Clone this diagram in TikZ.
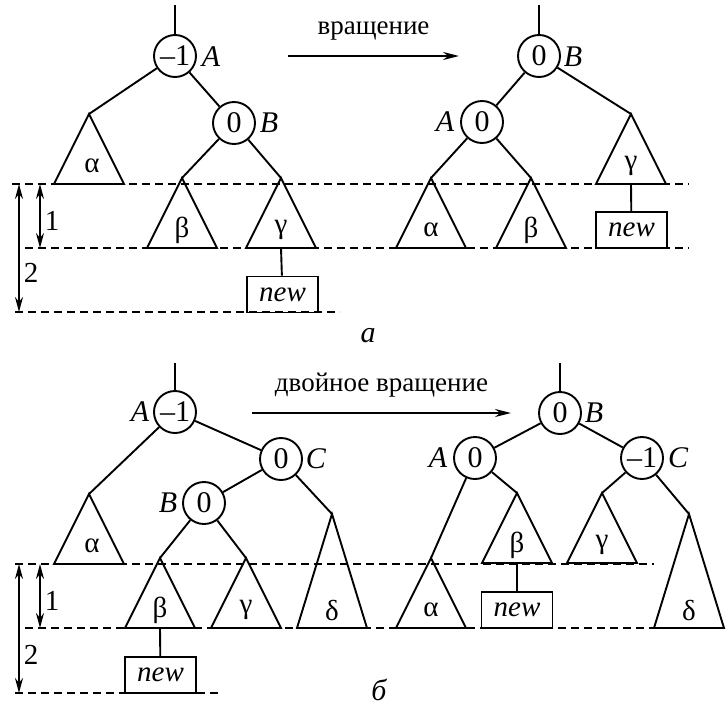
\documentclass[tikz,border=0pt]{standalone}
\usepackage{fontspec}
\setmainfont{Liberation Serif}
\usetikzlibrary{arrows.meta}
\begin{document}
\begin{tikzpicture}[x=0.5pt,y=-0.5pt,font=\fontsize{13.5}{15}\selectfont,line width=0.95pt]
     \tikzstyle{balnode}=[draw,circle,minimum size=21pt,inner sep=0pt,font=\fontsize{15}{15}\selectfont]
     \tikzstyle{namenode}=[font=\fontsize{15}{15}\selectfont\itshape,inner sep=0pt]
     \tikzstyle{newnode}=[draw,minimum width=35.5pt,minimum height=18pt,inner sep=0pt,font=\fontsize{14.5}{15}\selectfont\itshape]
     \tikzstyle{subnode}=[inner sep=0pt,font=\fontsize{14.5}{15}\selectfont]
     \tikzstyle{levelline}=[dash pattern=on 4pt off 2.5pt,line width=0.75pt]
     \tikzstyle{dimline}=[{Stealth[length=7.5pt,width=4pt]}-{Stealth[length=7.5pt,width=4pt]}]
     \tikzstyle{turnline}=[-{Stealth[length=8pt,width=4pt]}]
     \useasboundingbox (0,0) rectangle (728,707);
     % a: levels
     \draw[levelline] (12,184) -- (689,184);
     \draw[levelline] (25,248) -- (689,248);
     \draw[levelline] (15,312) -- (340,312);
     \draw[dimline] (19,184) -- (19,312);
     \draw[dimline] (40,184) -- (40,248);
     \node[subnode] (one1) at (52,221) {1};
     \node[subnode] (two1) at (31,273) {2};
     % a: before
     \coordinate (s1) at (175,5);
     \node[balnode] (a1) at (175,56) {--1};
     \node[namenode] (a1n) at (211,57) {A};
     \node[balnode] (b1) at (234,123) {0};
     \node[namenode] (b1n) at (269,123) {B};
     \coordinate (al1) at (89,114);
     \coordinate (be1) at (182,178);
     \coordinate (ga1) at (281,178);
     \draw (s1) -- (a1);
     \draw (a1) -- (al1);
     \draw (a1) -- (b1);
     \draw (b1) -- (be1);
     \draw (b1) -- (ga1);
     \draw (al1) -- ++(-35,70) -- ++(70,0) -- cycle;
     \draw (be1) -- ++(-35,70) -- ++(70,0) -- cycle;
     \draw (ga1) -- ++(-35,70) -- ++(70,0) -- cycle;
     \node[subnode] at (92,166) {α};
     \node[subnode] at (182,230) {β};
     \node[subnode] at (281,230) {γ};
     \coordinate (gb1) at (281,248);
     \node[newnode] (n1) at (282.5,294.5) {new};
     \draw (gb1) -- (n1);
     % a: arrow
     \coordinate (t1) at (288,56);
     \coordinate (t2) at (459,56);
     \draw[turnline] (t1) -- node[above=4pt] {вращение} (t2);
     % a: after
     \coordinate (s2) at (539,5);
     \node[balnode] (b2) at (539,56) {0};
     \node[namenode] (b2n) at (573,57) {B};
     \node[balnode] (a2) at (482,122) {0};
     \node[namenode] (a2n) at (445,122) {A};
     \coordinate (al2) at (431,178);
     \coordinate (be2) at (531,178);
     \coordinate (ga2) at (631,114);
     \draw (s2) -- (b2);
     \draw (b2) -- (a2);
     \draw (b2) -- (ga2);
     \draw (a2) -- (al2);
     \draw (a2) -- (be2);
     \draw (al2) -- ++(-35,70) -- ++(70,0) -- cycle;
     \draw (be2) -- ++(-35,70) -- ++(70,0) -- cycle;
     \draw (ga2) -- ++(-35,70) -- ++(70,0) -- cycle;
     \node[subnode] at (431,230) {α};
     \node[subnode] at (531,230) {β};
     \node[subnode] at (631,166) {γ};
     \coordinate (gb2) at (631,184);
     \node[newnode] (n2) at (631.5,230) {new};
     \draw (gb2) -- (n2);
     \node[namenode] (capa) at (368,336) {а};
     % b: levels
     \draw[levelline] (15,564) -- (654,564);
     \draw[levelline] (25,628) -- (726,628);
     \draw[levelline] (15,693) -- (218,693);
     \draw[dimline] (19,564) -- (19,693);
     \draw[dimline] (40,564) -- (40,628);
     \node[subnode] (one2) at (52,601) {1};
     \node[subnode] (two2) at (31,655) {2};
     % b: before
     \coordinate (s3) at (175,363);
     \node[balnode] (a3) at (175,412) {--1};
     \node[namenode] (a3n) at (140,412) {A};
     \node[balnode] (c3) at (281,459) {0};
     \node[namenode] (c3n) at (316,459) {C};
     \node[balnode] (b3) at (204,503) {0};
     \node[namenode] (b3n) at (168,503) {B};
     \coordinate (al3) at (89,494);
     \coordinate (be3) at (160,558);
     \coordinate (ga3) at (246,558);
     \coordinate (de3) at (332,514);
     \draw (s3) -- (a3);
     \draw (a3) -- (al3);
     \draw (a3) -- (c3);
     \draw (c3) -- (b3);
     \draw (c3) -- (de3);
     \draw (b3) -- (be3);
     \draw (b3) -- (ga3);
     \draw (al3) -- ++(-35,70) -- ++(70,0) -- cycle;
     \draw (be3) -- ++(-35,70) -- ++(70,0) -- cycle;
     \draw (ga3) -- ++(-35,70) -- ++(70,0) -- cycle;
     \draw (de3) -- ++(-35,114) -- ++(70,0) -- cycle;
     \node[subnode] at (92,546) {α};
     \node[subnode] at (160,610) {β};
     \node[subnode] at (246,610) {γ};
     \node[subnode] at (332,610) {δ};
     \coordinate (bb3) at (160,628);
     \node[newnode] (n3) at (160.5,675) {new};
     \draw (bb3) -- (n3);
     % b: arrow
     \coordinate (t3) at (252,413);
     \coordinate (t4) at (511,413);
     \draw[turnline] (t3) -- node[above=4pt] {двойное вращение} (t4);
     % b: after
     \coordinate (s4) at (560,363);
     \node[balnode] (b4) at (560,413) {0};
     \node[namenode] (b4n) at (594,413) {B};
     \node[balnode] (a4) at (475,458) {0};
     \node[namenode] (a4n) at (438,458) {A};
     \node[balnode] (c4) at (642,458) {--1};
     \node[namenode] (c4n) at (678,458) {C};
     \coordinate (al4) at (431,558);
     \coordinate (be4) at (517,493);
     \coordinate (ga4) at (602,493);
     \coordinate (de4) at (689,514);
     \draw (s4) -- (b4);
     \draw (b4) -- (a4);
     \draw (b4) -- (c4);
     \draw (a4) -- (al4);
     \draw (a4) -- (be4);
     \draw (c4) -- (ga4);
     \draw (c4) -- (de4);
     \draw (al4) -- ++(-35,70) -- ++(70,0) -- cycle;
     \draw (be4) -- ++(-35,70) -- ++(70,0) -- cycle;
     \draw (ga4) -- ++(-35,70) -- ++(70,0) -- cycle;
     \draw (de4) -- ++(-35,114) -- ++(70,0) -- cycle;
     \node[subnode] at (431,610) {α};
     \node[subnode] at (517,545) {β};
     \node[subnode] at (602,545) {γ};
     \node[subnode] at (689,610) {δ};
     \coordinate (bb4) at (517,563);
     \node[newnode] (n4) at (517,610) {new};
     \draw (bb4) -- (n4);
     \node[namenode] (capb) at (379,690) {б};
    \end{tikzpicture}
\end{document}
